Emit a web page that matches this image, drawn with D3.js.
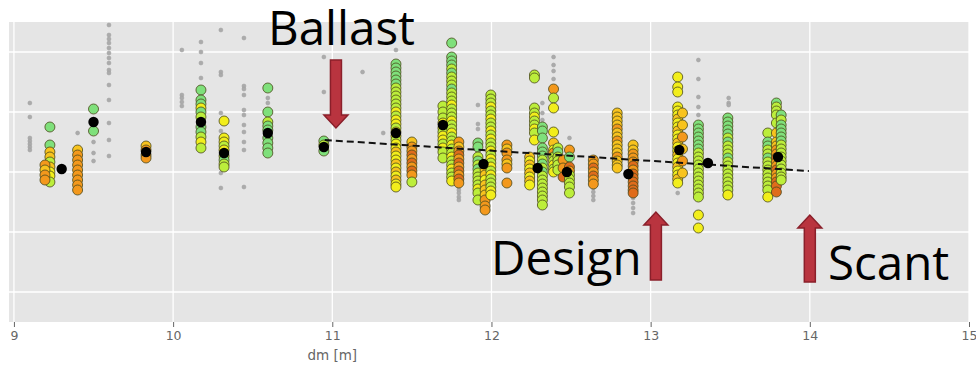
<!DOCTYPE html>
<html>
<head>
<meta charset="utf-8">
<script src="https://cdn.jsdelivr.net/npm/d3@7"></script>
<style>
  html, body { margin: 0; background: #ffffff; }
  svg { display: block; }
</style>
</head>
<body>
<svg id="chart" width="976" height="367"></svg>
<script>
// Axis ticks
const xTicks = [9, 10, 11, 12, 13, 14, 15];
const yTicks = [0, 6, 12, 18, 24];

// Coloured draught columns: x position (dm) and the trim values stacked at it
const colX = [9.226, 9.195, 9.40, 9.50, 9.83, 10.175, 10.32, 10.595, 10.947, 11.40,
  11.50, 11.695, 11.75, 11.795, 11.915, 11.96, 11.996, 12.097, 12.24, 12.27,
  12.32, 12.39, 12.417, 12.45, 12.49, 12.64, 12.79, 12.89, 13.17, 13.20,
  13.30, 13.485, 13.736, 13.79, 13.82];

const colY = [
  [16.5, 14.7, 14.0, 13.5, 13.0, 12.5, 12.0, 11.6, 11.0],
  [12.7, 12.2, 11.7, 11.2],
  [14.2, 13.7, 13.2, 12.7, 12.2, 11.7, 11.2, 10.7, 10.2],
  [18.3, 16.1],
  [14.6, 14.2, 13.7, 13.4],
  [20.2, 19.2, 18.8, 18.4, 18.0, 17.5, 16.5, 16.0, 15.5, 15.0, 14.4],
  [17.1, 15.4, 15.0, 14.6, 14.2, 13.6, 13.2, 12.8, 12.5],
  [20.4, 18.0, 17.0, 16.6, 16.2, 15.4, 14.9, 14.4, 13.9],
  [15.1, 14.7, 14.1],
  [22.8, 22.4, 22.0, 21.6, 21.2, 20.8, 20.4, 20.0, 19.6, 19.2, 18.8, 18.4, 18.0, 17.6, 17.2, 16.8,
   16.4, 16.0, 15.6, 15.2, 14.8, 14.4, 14.0, 13.6, 13.2, 12.8, 12.4, 12.0, 11.6, 11.2, 10.8, 10.5],
  [15.0, 14.5, 14.1, 13.7, 13.3, 12.9, 12.5, 12.1, 11.7, 11.0],
  [18.6, 18.0, 17.4, 16.9, 16.4, 16.0, 15.6, 15.2, 14.8, 14.4, 14.0, 13.4],
  [24.9, 23.5, 23.1, 22.7, 22.3, 21.9, 21.5, 21.1, 20.7, 20.3, 19.9, 19.5, 19.1, 18.7, 18.3, 17.9, 17.5,
   17.1, 16.7, 16.3, 15.9, 15.5, 15.1, 14.7, 14.3, 13.9, 13.5, 13.1, 12.7, 12.3, 11.9, 11.5, 11.1],
  [15.0, 14.5, 14.1, 13.7, 13.3, 12.9, 12.5, 12.1, 11.7, 11.3, 10.9],
  [14.9, 14.5, 13.5, 13.1, 12.7, 12.3, 11.9, 11.5, 11.1, 10.7, 10.3, 9.9, 9.2],
  [12.2, 11.7, 11.2, 10.7, 10.2, 9.7, 9.2, 8.6, 8.2],
  [19.7, 19.3, 18.9, 18.5, 18.1, 17.7, 17.3, 16.9, 16.5, 16.1, 15.7, 15.3, 14.9, 14.5, 14.1, 13.7,
   13.3, 12.9, 12.5, 12.1, 11.7, 11.3, 10.9, 10.5, 10.1, 9.7],
  [14.7, 14.3, 13.9, 13.2, 12.8, 12.4, 10.9],
  [13.5, 13.1, 12.7, 12.3, 11.9, 11.5, 11.1, 10.7],
  [21.7, 21.4, 18.4, 17.9, 17.5, 17.1, 16.7, 16.3, 15.9, 15.2],
  [16.5, 16.1, 15.4, 14.4, 14.0, 13.6, 13.2, 12.8, 12.4, 12.0, 11.6, 11.2, 10.8, 10.4, 10.0, 9.6, 9.2, 8.7],
  [20.3, 19.4, 18.4, 16.0, 14.9, 14.2, 13.9, 13.5, 13.1, 12.7, 12.3, 12.0],
  [14.4, 14.0, 13.5, 13.1, 12.7, 12.2],
  [13.2, 12.4, 11.5],
  [14.2, 13.5, 12.5, 12.1, 11.7, 11.3, 10.9, 10.5, 9.9],
  [13.2, 12.8, 12.4, 12.0, 11.6, 11.2, 10.8],
  [17.9, 17.5, 17.1, 16.7, 16.3, 15.9, 15.5, 15.1, 14.7, 14.3, 13.9, 13.5, 13.1, 12.7, 12.4],
  [14.7, 14.2, 13.8, 13.4, 13.0, 12.6, 12.2, 11.8, 11.4, 11.0, 10.6, 10.2, 9.9],
  [21.5, 20.5, 20.0, 18.5, 18.1, 17.7, 17.3, 16.9, 16.5, 16.1, 15.7, 15.3, 14.9, 14.5, 14.1, 13.7,
   13.3, 12.9, 12.5, 12.1, 11.7, 11.3, 10.9],
  [17.9, 16.7, 15.5, 14.3, 13.1, 11.9],
  [16.7, 16.3, 15.9, 15.5, 15.1, 14.7, 14.3, 13.9, 13.5, 13.1, 12.7, 12.3, 11.9, 11.5, 11.1, 10.7,
   10.3, 9.9, 9.5, 7.7, 6.4],
  [17.4, 17.0, 16.6, 16.2, 15.8, 15.4, 15.0, 14.6, 14.2, 13.8, 13.4, 13.0, 12.6, 12.2, 11.8, 11.4,
   11.0, 10.6, 10.2, 9.7],
  [15.9, 15.0, 14.6, 14.2, 13.8, 13.4, 13.0, 12.6, 12.2, 11.8, 11.4, 11.0, 10.6, 10.2, 9.5],
  [18.9, 18.5, 18.1, 17.7, 16.9, 15.9, 15.0, 14.6, 14.2, 13.8, 13.4, 13.0, 12.6, 12.2, 11.8, 11.4,
   11.0, 10.6, 10.0],
  [17.7, 17.2, 16.7, 16.3, 15.9, 15.5, 15.1, 14.7, 14.3, 13.9, 13.5, 13.1, 12.7, 12.3, 11.9, 11.5, 11.2]
];

// Colour class of each point, one letter per value in colY
const colC = [
  "GGAALAYYL", "OAOO", "AOOOOOOOO", "GG", "AOOO", "GGGYGLGGLYL", "YYYLYLGLL", "GGLGGGGGG", "GLG",
  "GGGGGGLLLLLLYLYYLYYLYYAYYAYAYAYY",
  "AOOROROROL", "LLLYYLYYLYLL",
  "GGGGLGLLLGLLLYLLLYLLYLLYLLYLLYLLY",
  "OAORORORORO", "GGLGLGLLLLYLL", "AAYAAAOOO",
  "LLLYLLYLLYLYLLYLYLYLYLLLYY",
  "OAOOAOO", "AYAYAYAY", "LLLLYLLYLY", "GGGGGGLGLGLLLLLLLL", "OLYYAYOLLYLY", "LGLLLL", "OOR",
  "OGROLLLLL", "OOROROO", "AAAAOAAOAAAOAAA", "AAOOORORRRRRR",
  "YYYYYYAYYAYYAYYAYYAYYAY", "AAOAOA",
  "GGGGGGGLLLLLLLLLLLLYY", "GGGGGLGLLLGLLLLLLLLY", "LGGLLGLLLLLLLLY",
  "GLLLLAAAOOROOROORRR", "GLGGGGGLLLLLLLLLL"
];

const classColor = { G: "#7fe07b", L: "#bcee3b", Y: "#f2ee1c", A: "#f8c31e", O: "#f3981c", R: "#df6c1b" };

// Unclassified observations (small grey dots)
const grayX = [9.10, 9.40, 9.50, 9.597, 10.055, 10.175, 10.30, 10.445, 10.595, 10.947, 11.19, 11.32,
  11.40, 11.795, 11.915, 12.32, 12.39, 12.49, 12.64, 12.89, 13.17, 13.30, 13.49];
const grayY = [
  [18.9, 17.5, 15.4, 15.1, 14.8, 14.5, 14.2],
  [15.9],
  [15.0, 13.9, 13.1],
  [26.7, 25.7, 25.3, 24.9, 24.4, 23.9, 23.4, 22.9, 22.2, 21.9, 20.7, 19.2, 16.9, 15.2, 13.6],
  [24.2, 19.7, 19.4, 19.0, 18.6],
  [25.0, 24.0, 22.9, 21.4],
  [26.2, 22.0, 21.7, 17.9, 16.1, 13.9, 11.9, 10.4],
  [25.4, 20.6, 20.3, 19.7, 18.2, 17.7, 16.7, 16.0, 15.0, 14.2, 10.5],
  [19.4, 18.9],
  [23.5, 20.0],
  [22.0],
  [15.9],
  [24.2],
  [10.5, 10.2, 9.9, 9.5, 9.2],
  [18.7, 16.8, 16.3],
  [18.9, 17.9, 17.2],
  [23.5, 22.7, 22.1, 21.3],
  [15.4],
  [10.4, 10.0, 9.6, 9.2],
  [9.4, 8.9, 8.4, 7.9],
  [9.9],
  [23.2, 21.3, 19.5, 18.5, 17.7],
  [19.4, 18.9, 18.7]
];

// Mean of each draught group
const meanX = [9.30, 9.50, 9.83, 10.175, 10.32, 10.595, 10.947, 11.40, 11.695, 11.95,
  12.29, 12.474, 12.86, 13.18, 13.36, 13.80];
const meanY = [12.3, 17.0, 14.0, 17.0, 13.9, 15.9, 14.5, 15.9, 16.7, 12.8,
  12.4, 12.0, 11.8, 14.2, 12.9, 13.5];

// Trend line through the loaded range
const trendX = [10.953, 13.994];
const trendY = [15.2, 12.1];

// Annotated draughts: label, x position, arrow start / tip
const noteLabel = ["Ballast", "Design", "Scant"];
const noteX = [11.023, 13.033, 14.0];
const noteFrom = [23.2, 1.2, 1.0];
const noteTip = [16.4, 8.0, 7.7];

const plot = { left: 9, right: 969, top: 22, bottom: 322 };

const svg = d3.select("#chart");
const x = d3.scaleLinear().domain([8.969, 15]).range([plot.left, plot.right]);
const y = d3.scaleLinear().domain([-3, 27]).range([plot.bottom, plot.top]);

// Panel
svg.append("rect")
  .attr("x", plot.left).attr("y", plot.top)
  .attr("width", plot.right - plot.left).attr("height", plot.bottom - plot.top)
  .attr("fill", "#e5e5e5");

// Grid
svg.append("g").selectAll("line").data(yTicks).join("line")
  .attr("x1", plot.left).attr("x2", plot.right)
  .attr("y1", d => y(d)).attr("y2", d => y(d))
  .attr("stroke", "#ffffff").attr("stroke-width", 1.3);
svg.append("g").selectAll("line").data(xTicks).join("line")
  .attr("x1", d => x(d)).attr("x2", d => x(d))
  .attr("y1", plot.top).attr("y2", plot.bottom)
  .attr("stroke", "#ffffff").attr("stroke-width", 1.3);

// X axis
const xAxis = svg.append("g")
  .attr("transform", `translate(0,${plot.bottom})`)
  .call(d3.axisBottom(x).tickValues(xTicks).tickFormat(d3.format("d")).tickSize(5).tickPadding(4));
xAxis.select(".domain").remove();
xAxis.selectAll(".tick line").attr("stroke", "#666").attr("stroke-width", 1);
xAxis.selectAll(".tick text")
  .attr("fill", "#666")
  .style("font-family", "'DejaVu Sans', sans-serif")
  .style("font-size", "12.5px");

svg.append("text")
  .attr("x", x(11)).attr("y", 360)
  .attr("text-anchor", "middle")
  .attr("fill", "#666")
  .style("font-family", "'DejaVu Sans', sans-serif")
  .style("font-size", "13.5px")
  .text("dm [m]");

// Grey observations
const grayPts = [];
grayX.forEach((gx, i) => grayY[i].forEach(gy => grayPts.push([gx, gy])));
svg.append("g").selectAll("circle").data(grayPts).join("circle")
  .attr("cx", d => x(d[0])).attr("cy", d => y(d[1]))
  .attr("r", 2)
  .attr("fill", "#ababab")
  .attr("stroke", "#9c9c9c")
  .attr("stroke-width", 0.5);

// Coloured observations
const colPts = [];
colX.forEach((cx, i) => colY[i].forEach((cy, j) => colPts.push([cx, cy, colC[i][j]])));
svg.append("g").selectAll("circle").data(colPts).join("circle")
  .attr("cx", d => x(d[0])).attr("cy", d => y(d[1]))
  .attr("r", 5)
  .attr("fill", d => classColor[d[2]])
  .attr("stroke", "#4b4a1c")
  .attr("stroke-opacity", 0.8)
  .attr("stroke-width", 1);

// Trend line
svg.append("line")
  .attr("x1", x(trendX[0])).attr("y1", y(trendY[0]))
  .attr("x2", x(trendX[1])).attr("y2", y(trendY[1]))
  .attr("stroke", "#111").attr("stroke-width", 2)
  .attr("stroke-dasharray", "7,4");

// Group means
svg.append("g").selectAll("circle").data(meanX.map((m, i) => [m, meanY[i]])).join("circle")
  .attr("cx", d => x(d[0])).attr("cy", d => y(d[1]))
  .attr("r", 5.2)
  .attr("fill", "#000");

// Arrows
function arrowPath(cx, yFrom, yTip) {
  const dir = yTip > yFrom ? 1 : -1;
  const sw = 5.5, hw = 12, hl = 13;
  const base = yTip - dir * hl;
  return `M${cx - sw},${yFrom} L${cx + sw},${yFrom} L${cx + sw},${base} L${cx + hw},${base} ` +
         `L${cx},${yTip} L${cx - hw},${base} L${cx - sw},${base} Z`;
}
svg.append("g").selectAll("path").data(noteX.map((n, i) => i)).join("path")
  .attr("d", i => arrowPath(x(noteX[i]), y(noteFrom[i]), y(noteTip[i])))
  .attr("fill", "#b9343f")
  .attr("stroke", "#8a1f2a")
  .attr("stroke-width", 1.5);

// Labels
const labelPos = [[268, 45], [491, 275], [828, 280]];
svg.append("g").selectAll("text").data(noteLabel).join("text")
  .attr("x", (d, i) => labelPos[i][0]).attr("y", (d, i) => labelPos[i][1])
  .attr("fill", "#000")
  .style("font-family", "'Open Sans', 'Noto Sans', sans-serif")
  .style("font-size", "47.5px")
  .text(d => d);
</script>
</body>
</html>
